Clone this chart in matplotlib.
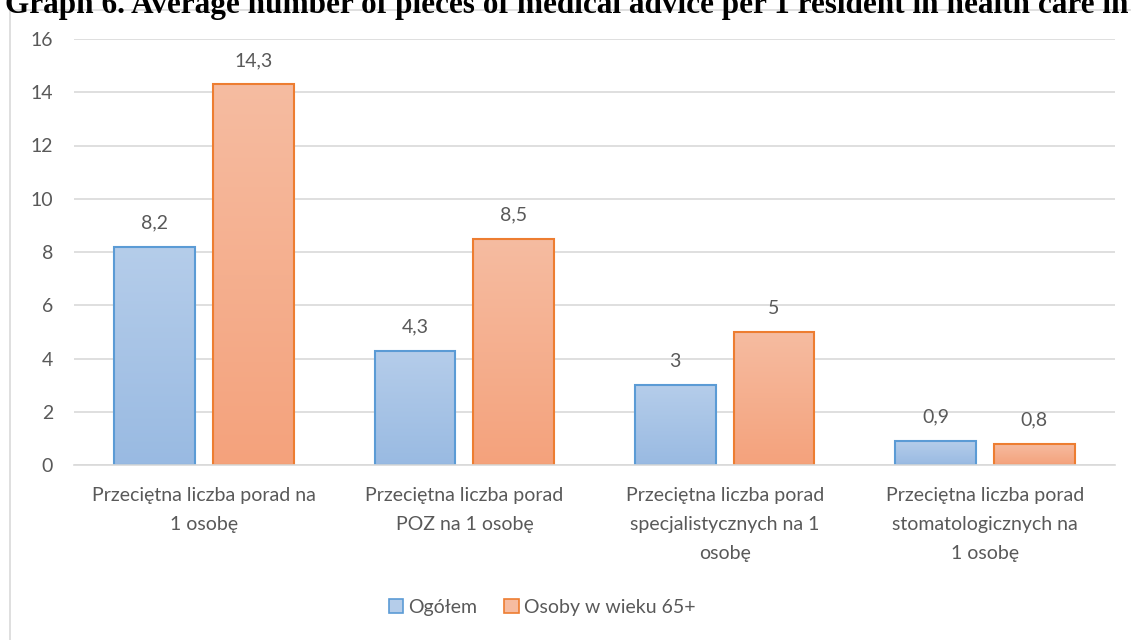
import numpy as np
import matplotlib
matplotlib.use("Agg")
import matplotlib.pyplot as plt
from matplotlib.patches import Rectangle, Patch
from matplotlib.colors import LinearSegmentedColormap

categories = [
    "Przeciętna liczba porad na\n1 osobę",
    "Przeciętna liczba porad\nPOZ na 1 osobę",
    "Przeciętna liczba porad\nspecjalistycznych na 1\nosobę",
    "Przeciętna liczba porad\nstomatologicznych na\n1 osobę",
]
ogolem = [8.2, 4.3, 3.0, 0.9]
seniorzy = [14.3, 8.5, 5.0, 0.8]
series_names = ["Ogółem", "Osoby w wieku 65+"]
yticks = [0, 2, 4, 6, 8, 10, 12, 14, 16]

TEXT = "#595959"
GRID = "#d9d9d9"
plt.rcParams["font.family"] = ["Lato", "DejaVu Sans"]

fig = plt.figure(figsize=(11.31, 6.4), dpi=100)
ax = fig.add_axes([74 / 1131, 1 - 465 / 640, (1115 - 74) / 1131, (465 - 39) / 640])

# chart frame (right and bottom edges run off the page)
fig.patches.append(Rectangle((10 / 1131, -0.1), 1.2, 1 - 10 / 640 + 0.1,
                             transform=fig.transFigure, fill=False,
                             edgecolor=GRID, lw=1.2))

# caption above the chart, clipped by the page edges as in the source
fig.text(0.004, 1 - 13 / 640,
         "Graph 6. Average number of pieces of medical advice per 1 resident in health care in",
         family="Liberation Serif", weight="bold", fontsize=22.5, color="black",
         ha="left", va="baseline")

x = np.arange(len(categories))
w = 0.31
off = 0.19
styles = [("#5b9bd5", "#b5cdea", "#99bae2"), ("#ed7d31", "#f6bca1", "#f4a27c")]


def gradient_bars(xs, vals, edge, top, bottom):
    cmap = LinearSegmentedColormap.from_list("g", [bottom, top])
    grad = np.linspace(0, 1, 256).reshape(-1, 1)
    bars = ax.bar(xs, vals, w, facecolor="none", edgecolor=edge, lw=1.5, zorder=3)
    for b in bars:
        x0, y0 = b.get_x(), b.get_y()
        im = ax.imshow(grad, cmap=cmap, origin="lower", aspect="auto",
                       extent=(x0, x0 + b.get_width(), y0, y0 + b.get_height()),
                       zorder=2)
        im.set_clip_path(b)
    for xi, v in zip(xs, vals):
        lab = f"{v:g}".replace(".", ",")
        ax.annotate(lab, (xi, v), xytext=(0, 11), textcoords="offset points",
                    ha="center", va="bottom", fontsize=14, color=TEXT)
    return bars


gradient_bars(x - off, ogolem, *styles[0])
gradient_bars(x + off, seniorzy, *styles[1])

ax.set_xlim(-0.5, len(categories) - 0.5)
ax.set_ylim(0, 16)
ax.set_yticks(yticks)
ax.set_yticklabels([str(t) for t in yticks])
ax.set_xticks(x)
ax.set_xticklabels(categories, linespacing=1.85)
ax.tick_params(axis="both", length=0, labelsize=14, labelcolor=TEXT)
ax.tick_params(axis="y", pad=15)
ax.tick_params(axis="x", pad=16)
ax.yaxis.grid(True, color=GRID, lw=1.2, zorder=0)
ax.set_axisbelow(True)
for s in ["top", "right", "left"]:
    ax.spines[s].set_visible(False)
ax.spines["bottom"].set_color(GRID)
ax.spines["bottom"].set_linewidth(1.2)
ax.spines["bottom"].set_zorder(4)

handles = [Patch(facecolor=styles[i][1], edgecolor=styles[i][0], lw=1.2, label=series_names[i])
           for i in range(2)]
fig.legend(handles=handles, loc="center", bbox_to_anchor=(542 / 1131, 1 - 607 / 640),
           ncol=2, frameon=False, fontsize=14, labelcolor=TEXT,
           handlelength=0.75, handleheight=0.75, handletextpad=0.25, columnspacing=1.4)

fig.savefig("out.png", dpi=100)
